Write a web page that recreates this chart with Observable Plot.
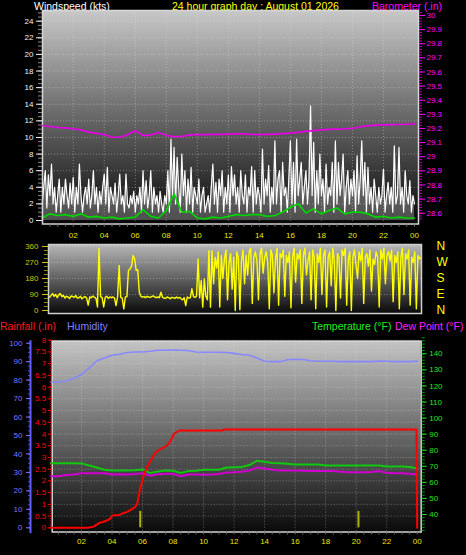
<!DOCTYPE html>
<html><head><meta charset="utf-8">
<script src="https://cdn.jsdelivr.net/npm/d3@7"></script>
<script src="https://cdn.jsdelivr.net/npm/@observablehq/plot@0.6"></script>
<style>
body{margin:0;background:#000;}
#chart{position:relative;width:466px;height:555px;background:#000;overflow:hidden;font-family:"Liberation Sans",Arial,sans-serif;}
.t{position:absolute;font-size:10.5px;white-space:nowrap;line-height:12px;}
</style></head><body>
<div id="chart">
  <div class="t" style="left:34px;top:0px;color:#ffffff">Windspeed (kts)</div>
  <div class="t" style="left:172px;top:0px;color:#ffff00">24 hour graph day : August 01 2026</div>
  <div class="t" style="left:372px;top:0px;color:#ff00ff">Barometer (.in)</div>
  <div class="t" style="left:0px;top:320px;color:#ff1a1a">Rainfall (.in)</div>
  <div class="t" style="left:67px;top:320px;color:#8080ff">Humidity</div>
  <div class="t" style="left:312px;top:320px;color:#22ee22">Temperature (°F)</div>
  <div class="t" style="left:395px;top:320px;color:#ff22ff">Dew Point (°F)</div>
</div>
<script>
// ---------- tick labels ----------
const hourTicks = [2,4,6,8,10,12,14,16,18,20,22,24];
const hourGrid = [2,4,6,8,10,12,14,16,18,20,22];
const windTicks = [0,2,4,6,8,10,12,14,16,18,20,22,24];
const baroTicks = [28.6,28.7,28.8,28.9,29.0,29.1,29.2,29.3,29.4,29.5,29.6,29.7,29.8,29.9,30.0];
const dirTicks = [0,90,180,270,360];
const dirLetters = ["N","E","S","W","N"];
const rainTicks = [0,0.5,1,1.5,2,2.5,3,3.5,4,4.5,5,5.5,6,6.5,7,7.5,8];
const humTicks = [0,10,20,30,40,50,60,70,80,90,100];
const tempTicks = [40,50,60,70,80,90,100,110,120,130,140];

// ---------- windspeed (kts), every 6 minutes ----------
const windGust = [
 2,4,6,1.5,5.5,3,6.8,2,4,1,
 3,5,1,4,2,5,3,1.5,4.5,2,
 5.2,1,4,2,6.8,3,1,3,4,2,
 5,1.5,3,6,2,4,1,3.5,2,4,
 5.6,2,6.4,1,4,3,2,4.5,1,3,
 5.6,2,3,1,5.6,2,1.5,3,2,3.5,
 1,3,2,4,1,6,2,4.8,1.5,3,
 6,1,4,2,3,1,3.5,2,1,3,
 2,6,1,9.8,3,8.8,2,7.6,4,1,
 8,3,6,1,5,2,6.4,1,4,3,
 2,5,1,3,4,1,2,3,1,4,
 6.8,2,4.6,1,5,3,6,1,4,2,
 5.5,1,6.5,3,5.5,2,4,1,6,3,
 2,5.5,1,4,3,6.5,1,6,2,4,
 3,1,8.6,2,5,3,6.6,1,4,2,
 9.6,2,5,6,1,7,3,4,1,5,
 9.6,2,7,1,9.8,3,5,7,2,4,
 6,2,5,13.8,3,9.4,1,6,2,8,
 3,5,1,6.8,2,4,3,7,1,9.6,
 2,7,3,5,8,1,4,6,2,5,
 3,6,1,7.8,2,5,9.6,3,7,1,
 6.4,2,4,1,5,3,1,4,2,3,
 6.2,1,3,4.6,2,4,1,9,2,3,
 8.8,2,4,1,6,3,2,4.8,1,3,
 2];
// average windspeed, every 30 minutes
const windAvg = [
 0.3,0.8, 0.6,0.7, 0.5,0.8, 0.4,0.5, 0.3,0.4, 0.2,0.3,
 0.4,1.3, 0.5,0.3, 1.2,3.2, 1.0,1.1, 0.3,0.2, 0.4,0.3,
 0.5,0.7, 0.6,0.7, 0.7,0.5, 0.6,1.0, 1.6,2.0, 0.9,1.4,
 0.8,1.2, 1.5,0.8, 1.0,1.0, 0.8,0.4, 0.5,0.3, 0.4,0.3, 0.3];
// barometer (.in), every 30 minutes
const baro = [
 29.221,29.214,29.207,29.204,29.198,29.19,29.174,29.165,29.157,29.138,29.138,29.155,
 29.186,29.15,29.154,29.172,29.15,29.142,29.143,29.155,29.156,29.157,29.158,29.158,
 29.16,29.162,29.162,29.158,29.157,29.158,29.16,29.163,29.167,29.172,29.18,29.185,
 29.19,29.193,29.196,29.198,29.2,29.212,29.219,29.224,29.225,29.227,29.228,29.23,29.233];
// wind direction (deg), every 6 minutes
const windDir = [
 75,85,95,80,90,72,88,95,78,85,
 70,80,76,68,82,78,74,84,70,72,
 80,66,74,78,70,30,76,72,82,74,
 70,20,350,78,72,20,74,80,68,76,
 72,76,70,28,78,253,74,70,9,76,
 78,225,234,250,309,290,225,230,103,80,
 75,78,72,80,76,74,78,82,76,72,
 76,72,103,74,70,68,76,72,66,74,
 72,68,76,70,74,66,60,72,28,76,
 70,72,122,78,74,80,290,72,169,19,
 178,80,60,337,19,337,150,300,240,330,
 20,310,180,290,340,60,270,320,120,300,
 0,330,300,5,280,340,150,310,200,330,
 350,40,300,330,280,60,320,350,210,300,
 330,270,10,340,310,100,290,350,30,320,
 300,340,80,310,270,330,15,300,350,160,
 320,290,340,40,310,350,200,280,330,60,
 340,300,10,320,270,350,90,310,340,20,
 300,330,140,350,280,0,320,300,70,340,
 310,350,30,290,330,0,300,340,260,180,
 330,280,350,40,300,320,250,340,110,290,
 260,330,300,20,340,290,350,150,310,330,
 280,340,50,310,270,330,10,300,350,90,
 320,290,340,30,300,270,330,10,310,290,
 300];
// humidity (%), every 30 minutes
const humidity = [
 79,79,79.5,81,83,86.5,90.5,92,93.5,94,95,95.2,
 95.2,95.6,96.2,96.2,96.3,96.2,96,95.2,95.1,95.1,95.1,95,
 94.5,93.9,93.5,92,90.2,90,90,91,91.3,91.2,90.5,90.2,
 90.2,90.2,90,90,90,90,90,90.3,90.2,90,90,90,90.3];
// temperature (F), every 30 minutes
const temperature = [
 71.9,71.9,71.9,71.9,71.8,70.5,69.2,67.8,67.4,67.4,67.4,67.5,
 68,65.8,66.8,67.4,67.2,65.8,67,67.2,67.8,67.8,67.9,69.2,
 69.4,69.6,70.8,73.4,72.8,72,71.9,71.6,71.1,71.1,71.1,71.1,
 70.5,70.5,70.5,70.5,70.5,70.5,70.5,70.5,69.9,69.9,69.9,69.5,68.8];
// dew point (F), every 30 minutes
const dewPoint = [
 63.8,63.8,64.6,64.9,65.7,65.7,65.7,65.6,64.9,65,64.9,65.2,
 65.7,64.1,65,65.3,65.3,63.8,64.9,64.9,64.8,64.9,65.2,66.2,
 66.3,66.6,67.4,69.2,68.6,67.8,67.4,67.4,67.4,67.3,67,67,
 67,67,66.6,66.3,66.3,66.3,66.4,67,66,65.7,65.7,65.4,64.9];
// rainfall (.in), read at irregular hours
const rainHours = [0,2.4,2.8,3.2,3.4,3.7,3.9,4.0,4.5,4.7,5.0,5.3,5.5,5.65,5.85,6.1,6.3,6.6,6.85,7.2,7.6,7.85,8.05,8.4,11.25,11.3,23.95,24];
const rainfall  = [0,0,0.05,0.22,0.25,0.32,0.4,0.52,0.55,0.62,0.68,0.8,0.88,1.02,1.7,2.3,2.6,2.95,3.2,3.37,3.5,3.72,4.0,4.15,4.15,4.19,4.19,0];
// rain rate markers
const rainRateHours = [5.85,20.15];
const rainRate = [0.7,0.7];

// ---------- helpers ----------
const FONT = '"Liberation Sans", Arial, sans-serif';
const chart = document.getElementById("chart");
function place(svg, top){ svg.style.position="absolute"; svg.style.left="0px"; svg.style.top=top+"px"; chart.appendChild(svg); }
function rows(vals, step){ return vals.map((v,i)=>({h:i*step, v})); }
function bg(id, stops){
  return (index, scales, values, dims) => {
    const g = d3.create("svg:g");
    const lg = g.append("defs").append("linearGradient").attr("id", id)
      .attr("x1","0").attr("y1","0").attr("x2","0").attr("y2","1");
    stops.forEach(([o,c]) => lg.append("stop").attr("offset", o).attr("stop-color", c));
    g.append("rect").attr("x", dims.marginLeft).attr("y", dims.marginTop)
      .attr("width", dims.width - dims.marginLeft - dims.marginRight)
      .attr("height", dims.height - dims.marginTop - dims.marginBottom)
      .attr("fill", `url(#${id})`);
    return g.node();
  };
}
const style = {background:"transparent", fontFamily:FONT, fontSize:"8px"};
const gridStyle = {stroke:"#e8e8e8", strokeOpacity:0.38, strokeDasharray:"1,2", strokeWidth:1};
const hourFmt = d => String(d % 24).padStart(2,"0");
const blank = () => "";

// ---------- top panel: windspeed ----------
const topDims = {width:466, height:242, marginLeft:42, marginRight:48, marginTop:10, marginBottom:18.5};
const topX = {domain:[0,24], range:[41.7,414], axis:null};
const gustRows = rows(windGust, 0.1);
const topA = Plot.plot({...topDims, style,
  x: topX,
  y: {domain:[0,24], range:[220,20.7], axis:null},
  marks: [
    bg("gTop", [["0%","#c8c8c8"],["100%","#080808"]]),
    Plot.gridY(windTicks.slice(1), gridStyle),
    Plot.gridX(hourGrid, gridStyle),
    Plot.areaY(gustRows, {x:"h", y:"v", fill:"#ffffff", fillOpacity:0.28}),
    Plot.line(gustRows, {x:"h", y:"v", stroke:"#ffffff", strokeWidth:1.2}),
    Plot.line(rows(windAvg, 0.5), {x:"h", y:"v", stroke:"#00d400", strokeWidth:1.7}),
    Plot.frame({stroke:"#d6d6d6", strokeWidth:1.5}),
    Plot.axisY(d3.range(0, 25.01, 0.5), {anchor:"left", tickSize:4, color:"#8a8a8a", tickFormat:blank, label:null}),
    Plot.axisY(windTicks, {anchor:"left", tickSize:6, tickPadding:3, color:"#eef2ff", tickFormat:d=>String(d), label:null}),
    Plot.axisX(d3.range(0.5, 24.01, 0.5), {anchor:"bottom", tickSize:3, color:"#7a7a7a", tickFormat:blank, label:null}),
    Plot.axisX(hourTicks, {anchor:"bottom", tickSize:0, tickPadding:8, color:"#e8e800", tickFormat:hourFmt, label:null})
  ]});
place(topA, 0);
const topB = Plot.plot({...topDims, style,
  x: topX,
  y: {domain:[28.6,30], range:[212.7,15], axis:null},
  marks: [
    Plot.line(rows(baro, 0.5), {x:"h", y:"v", stroke:"#e600e6", strokeWidth:1.7}),
    Plot.axisY(d3.range(28.56, 30.03, 0.02), {anchor:"right", tickSize:3, color:"#c000c0", tickFormat:blank, label:null}),
    Plot.axisY(baroTicks, {anchor:"right", tickSize:6, tickPadding:2, color:"#ff00ff", tickFormat:d=>String(+d.toFixed(1)), label:null})
  ]});
place(topB, 0);

// ---------- wind direction panel ----------
const dirP = Plot.plot({width:466, height:80, marginLeft:48, marginRight:45, marginTop:6, marginBottom:5, style,
  x: {domain:[0,24], range:[49,420.5], axis:null},
  y: {domain:[0,360], range:[72,8], axis:null},
  marks: [
    bg("gDir", [["0%","#b8b8b8"],["100%","#0a0a0a"]]),
    Plot.gridY([90,180,270,360], gridStyle),
    Plot.line(rows(windDir, 0.1), {x:"h", y:"v", stroke:"#ffff00", strokeWidth:1.4}),
    Plot.frame({stroke:"#d0d0d0", strokeWidth:1.5}),
    Plot.axisY(d3.range(0, 361, 22.5), {anchor:"left", tickSize:4, color:"#8a8a00", tickFormat:blank, label:null}),
    Plot.axisY(dirTicks, {anchor:"left", tickSize:6, tickPadding:4, color:"#c8c800", tickFormat:d=>String(d), label:null}),
    Plot.axisY(dirTicks, {anchor:"right", tickSize:0, tickPadding:15, color:"#ffff00", fontSize:12, tickFormat:d=>dirLetters[dirTicks.indexOf(d)], label:null})
  ]});
place(dirP, 238);

// ---------- lower panel: rain / humidity / temperature ----------
const lowDims = {width:466, height:222, marginLeft:51.7, marginRight:45.3, marginTop:7.7, marginBottom:23.5};
const lowX = {domain:[0,24], range:[50.5,416.7], axis:null};
const rainY = {domain:[0,8], range:[194.3,6.7], axis:null};
const lowA = Plot.plot({...lowDims, style,
  x: lowX, y: rainY,
  marks: [
    bg("gLow", [["0%","#c4c4c4"],["100%","#0a0a0a"]]),
    Plot.gridY(rainTicks.slice(1), gridStyle),
    Plot.gridX(hourGrid, gridStyle),
    Plot.frame({stroke:"#d6d6d6", strokeWidth:1.5}),
    Plot.ruleX(rainRateHours.map((h,i)=>({h, v:rainRate[i]})), {x:"h", y1:0, y2:"v", stroke:"#b4b400", strokeWidth:2}),
    Plot.axisY(d3.range(0, 8.01, 0.1), {anchor:"left", tickSize:2, color:"#c00000", tickFormat:blank, label:null}),
    Plot.axisY(rainTicks, {anchor:"left", tickSize:4, tickPadding:2, color:"#ff0000", tickFormat:d=>String(d), label:null}),
    Plot.axisX(d3.range(0.5, 24.01, 0.5), {anchor:"bottom", tickSize:3, color:"#6a6a6a", tickFormat:blank, label:null}),
    Plot.axisX(hourTicks, {anchor:"bottom", tickSize:0, tickPadding:6, color:"#e8e800", tickFormat:hourFmt, label:null})
  ]});
place(lowA, 333);
const lowT = Plot.plot({...lowDims, style,
  x: lowX,
  y: {domain:[40,140], range:[181,20.3], axis:null},
  marks: [
    Plot.line(rows(dewPoint, 0.5), {x:"h", y:"v", stroke:"#d000d0", strokeWidth:2}),
    Plot.line(rows(temperature, 0.5), {x:"h", y:"v", stroke:"#10c810", strokeWidth:2}),
    Plot.axisY(d3.range(30, 150.1, 2), {anchor:"right", tickSize:3, color:"#00a000", tickFormat:blank, label:null}),
    Plot.axisY(tempTicks, {anchor:"right", tickSize:5, tickPadding:3, color:"#22e022", tickFormat:d=>String(d), label:null})
  ]});
place(lowT, 333);
const lowH = Plot.plot({...lowDims, marginLeft:30, style,
  x: lowX,
  y: {domain:[0,100], range:[194.3,9.7], axis:null},
  marks: [
    Plot.line(rows(humidity, 0.5), {x:"h", y:"v", stroke:"#8888ff", strokeWidth:1.6}),
    Plot.frame({anchor:"left", stroke:"#6060ff", strokeWidth:2}),
    Plot.axisY(d3.range(0, 100.1, 2.5), {anchor:"left", tickSize:2, color:"#5050d0", tickFormat:blank, label:null}),
    Plot.axisY(humTicks, {anchor:"left", tickSize:4, tickPadding:4, color:"#7878ff", tickFormat:d=>String(d), label:null})
  ]});
place(lowH, 333);
const lowR = Plot.plot({...lowDims, style,
  x: lowX, y: rainY,
  marks: [
    Plot.line(rainHours.map((h,i)=>({h, v:rainfall[i]})), {x:"h", y:"v", stroke:"#ff0000", strokeWidth:2})
  ]});
place(lowR, 333);
</script>
</body></html>
